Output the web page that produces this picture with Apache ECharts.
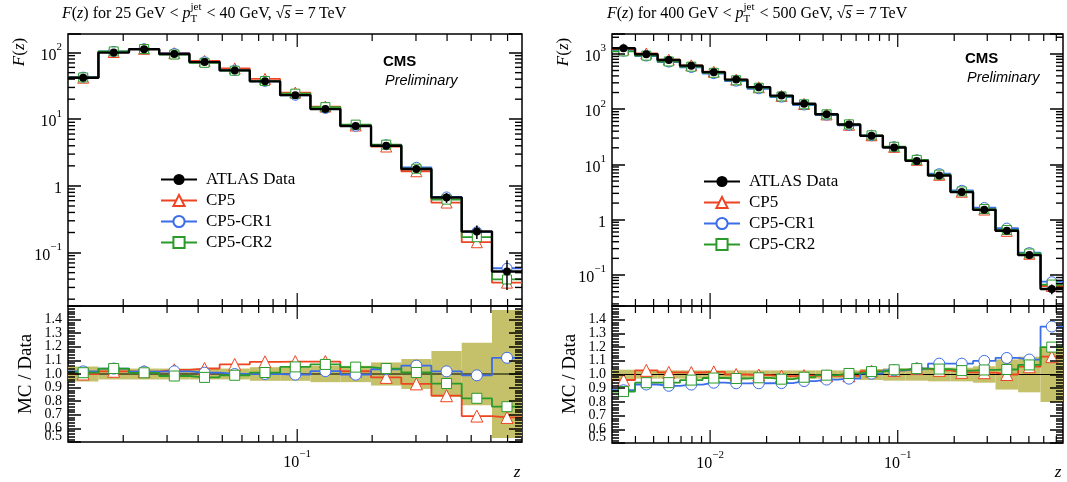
<!DOCTYPE html>
<html>
<head>
<meta charset="utf-8">
<script src="https://cdn.jsdelivr.net/npm/echarts@6/dist/echarts.min.js"></script>
<style>html,body{margin:0;background:#fff}#main{width:1067px;height:482px}</style>
</head>
<body>
<div id="main"></div>
<script>
// ---- data ----
var names = ['ATLAS Data', 'CP5', 'CP5-CR1', 'CP5-CR2'];

// 25 GeV < pT < 40 GeV
var edgesL = [0.012, 0.0159, 0.0211, 0.0279, 0.0369, 0.0488, 0.0645, 0.0854, 0.113, 0.149, 0.198, 0.262, 0.346, 0.458, 0.606, 0.80];
var dataL = [42, 100, 112, 95, 72, 54, 37, 23, 14.2, 7.9, 4.0, 1.79, 0.67, 0.207, 0.052];
var errL  = [0.055, 0.04, 0.04, 0.04, 0.04, 0.04, 0.05, 0.05, 0.06, 0.06, 0.085, 0.11, 0.17, 0.23, 0.47];
var cp5L  = [42, 102, 114, 97.9, 74.9, 57.8, 40.3, 25.1, 15.5, 8.06, 3.9, 1.66, 0.563, 0.143, 0.0354];
var cr1L  = [42.8, 104, 114, 96.9, 72.7, 54, 37, 22.9, 14.5, 7.86, 4.14, 1.9, 0.683, 0.205, 0.0582];
var cr2L  = [42.4, 104, 113, 93.6, 70.2, 53.5, 37.4, 24.2, 15.2, 8.3, 4.16, 1.81, 0.623, 0.17, 0.0395];

// 400 GeV < pT < 500 GeV
var edgesR = [0.003, 0.00398, 0.00525, 0.00691, 0.00912, 0.0120, 0.0158, 0.0209, 0.0276, 0.0364, 0.0479, 0.0631, 0.0833, 0.110, 0.145, 0.191, 0.252, 0.332, 0.438, 0.577, 0.76];
var dataR = [1268, 988, 775, 613, 467, 343, 250, 176, 125, 81, 52.7, 32.9, 20.2, 11.6, 6.3, 3.16, 1.51, 0.63, 0.229, 0.056];
var errR  = [0.035, 0.03, 0.03, 0.03, 0.03, 0.03, 0.03, 0.03, 0.03, 0.03, 0.03, 0.04, 0.045, 0.045, 0.05, 0.05, 0.06, 0.11, 0.13, 0.2];
var cp5R  = [1217, 1018, 787, 622, 476, 343, 249, 174, 124, 80.2, 52.2, 33.7, 20.8, 12.1, 6.49, 3.21, 1.53, 0.63, 0.242, 0.0633];
var cr1R  = [1122, 916, 711, 568, 439, 321, 234, 165, 119, 78, 51.1, 33.1, 20.8, 12.1, 6.8, 3.41, 1.66, 0.706, 0.254, 0.0756];
var cr2R  = [1110, 929, 729, 588, 455, 333, 244, 170, 122.5, 80.6, 53.1, 33.6, 20.9, 12.1, 6.55, 3.25, 1.56, 0.653, 0.245, 0.0672];

var SERIF = '"Liberation Serif", serif';
var SANS = '"Liberation Sans", sans-serif';
var colors = ['#000000', '#ee4422', '#3b6de8', '#2a9a2a'];
var symbols = ['circle', 'triangle', 'circle', 'rect'];
var symSize = [8, 11, 10, 9];
var bandColor = '#c5c06a';

var panels = [
  {edges: edgesL, data: dataL, err: errL, mc: [cp5L, cr1L, cr2L], yMin: 0.0158, yMax: 190,
   title: ['25 GeV', '40 GeV'], tx: 62, cms: [383, 62]},
  {edges: edgesR, data: dataR, err: errR, mc: [cp5R, cr1R, cr2R], yMin: 0.0275, yMax: 2290,
   title: ['400 GeV', '500 GeV'], tx: 607, cms: [965, 59]}
];
var grids = [
  {left: 68, top: 34, width: 454, height: 272},
  {left: 68, top: 306, width: 454, height: 136},
  {left: 612, top: 34, width: 451, height: 272},
  {left: 612, top: 306, width: 451, height: 137}
];

function stepData(edges, vals) {
  var out = [];
  for (var i = 0; i < vals.length; i++) {
    var lo = edges[i], hi = edges[i + 1];
    out.push({value: [lo, vals[i]], symbol: 'none'});
    out.push({value: [Math.sqrt(lo * hi), vals[i]]});
    out.push({value: [hi, vals[i]], symbol: 'none'});
  }
  return out;
}

function logLabel(v) {
  var l = Math.log10(v), n = Math.round(l);
  if (Math.abs(l - n) > 1e-6) return '';
  if (n === 0) return '{b|1}';
  return '{b|10}{e|' + (n < 0 ? '\u2212' + (-n) : n) + '}';
}
var logRich = {
  b: {fontSize: 16, fontFamily: SERIF, color: '#000', lineHeight: 22, verticalAlign: 'bottom'},
  e: {fontSize: 11, fontFamily: SERIF, color: '#000', lineHeight: 22, verticalAlign: 'top'}
};

function logTicks(lo, hi) {
  var out = [];
  for (var e = Math.floor(Math.log10(lo)); e <= Math.ceil(Math.log10(hi)); e++) {
    for (var m = 1; m <= 9; m++) {
      var v = +(m * Math.pow(10, e)).toPrecision(6);
      if (v > lo * 1.0001 && v < hi * 0.9999) out.push([v, m === 1 ? 1 : 0]);
    }
  }
  return out;
}

// x ticks drawn inside the frame, on bottom and top
function xTickSeries(gi, yi, ticks, ext) {
  var data = [];
  ticks.forEach(function (t) {
    data.push([t[0], ext[2], t[1], 0]);
    data.push([t[0], ext[2], t[1], 1]);
  });
  return {
    type: 'custom', xAxisIndex: gi, yAxisIndex: yi, silent: true, z: 6,
    data: data,
    renderItem: function (params, api) {
      var len = api.value(2) ? 13 : 7, side = api.value(3);
      var pt = api.coord([api.value(0), api.value(1)]);
      var c1 = api.coord([ext[1], ext[3]]);
      var s = side ? {x1: pt[0], y1: c1[1], x2: pt[0], y2: c1[1] + len}
                   : {x1: pt[0], y1: pt[1], x2: pt[0], y2: pt[1] - len};
      return {type: 'line', shape: s, style: {stroke: '#000', lineWidth: 1.2}};
    }
  };
}
// minor y ticks of the log panels (2..9 per decade), left and right
function yMinorSeries(gi, yi, ticks, ext) {
  var data = [];
  ticks.forEach(function (t) {
    if (!t[1]) { data.push([ext[0], t[0], 0]); data.push([ext[0], t[0], 1]); }
  });
  return {
    type: 'custom', xAxisIndex: gi, yAxisIndex: yi, silent: true, z: 6,
    data: data,
    renderItem: function (params, api) {
      var pt = api.coord([api.value(0), api.value(1)]);
      var xr = api.coord([ext[1], api.value(1)])[0];
      var x0 = api.value(2) ? xr - 7 : pt[0];
      return {type: 'rect', shape: {x: x0, y: pt[1] - 0.7, width: 7, height: 1.4}, style: {fill: '#000'}};
    }
  };
}

function txt(x, y, s, font) {
  return {type: 'text', x: x, y: y, style: {text: s, font: font, fill: '#000', verticalAlign: 'middle'}};
}
function mathText(x, y, size, parts) {
  var ctx = document.createElement('canvas').getContext('2d');
  var els = [], cx = x;
  parts.forEach(function (p) {
    var t = p[0], k = p[1], f, w;
    if (k === 'subsup') {
      f = Math.round(size * 0.7) + 'px ' + SERIF;
      ctx.font = f;
      w = Math.max(ctx.measureText(t[0]).width, ctx.measureText(t[1]).width);
      els.push(txt(cx, y + size * 0.32, t[0], f));
      els.push(txt(cx, y - size * 0.42, t[1], f));
      cx += w + 1;
      return;
    }
    f = (k === 'it' || k === 'ov' ? 'italic ' : '') + size + 'px ' + SERIF;
    ctx.font = f;
    w = ctx.measureText(t).width;
    els.push(txt(cx, y, t, f));
    if (k === 'ov') {
      els.push({type: 'rect', shape: {x: cx - 1, y: y - size * 0.55, width: w + 2, height: 1}, style: {fill: '#000'}});
    }
    cx += w;
  });
  return els;
}

var xAxes = [], yAxes = [], series = [], graphics = [];
var tickLine = {lineStyle: {color: '#000', width: 1.5}};

panels.forEach(function (p, pi) {
  var gm = pi * 2, gr = pi * 2 + 1;
  var xMin = p.edges[0], xMax = p.edges[p.edges.length - 1];
  [gm, gr].forEach(function (g) {
    xAxes.push({
      type: 'log', gridIndex: g, min: xMin, max: xMax,
      axisLine: {show: false}, axisTick: {show: false}, splitLine: {show: false},
      axisLabel: {show: g === gr, formatter: logLabel, rich: logRich, margin: 7}
    });
  });
  // main: left axis with labels, right axis mirrored; major ticks by the axes themselves
  ['left', 'right'].forEach(function (pos) {
    yAxes.push({
      type: 'log', gridIndex: gm, min: p.yMin, max: p.yMax, position: pos, z: 8,
      axisLine: {show: false}, splitLine: {show: false},
      axisTick: Object.assign({show: true, inside: true, length: 13}, tickLine),
      axisLabel: {show: pos === 'left', formatter: logLabel, rich: logRich, margin: 6}
    });
  });
  ['left', 'right'].forEach(function (pos) {
    yAxes.push({
      type: 'value', gridIndex: gr, min: 0.5, max: 1.5, interval: 0.1, position: pos, z: 8,
      axisLine: {show: false}, splitLine: {show: false},
      axisTick: Object.assign({show: true, inside: true, length: 13}, tickLine),
      minorTick: Object.assign({show: true, splitNumber: 5, length: 7}, tickLine),
      axisLabel: {
        show: pos === 'left', margin: 6, fontFamily: SERIF, fontSize: 14, lineHeight: 11, color: '#000',
        formatter: function (v) { return (v > 1.45 || v < 0.55) ? '' : v.toFixed(1); }
      }
    });
  });
  var ym = pi * 4, yr = pi * 4 + 2;

  // main panel: MC steps then data
  p.mc.forEach(function (vals, k) {
    series.push({
      type: 'line', name: names[k + 1], xAxisIndex: gm, yAxisIndex: ym,
      data: stepData(p.edges, vals), symbol: symbols[k + 1], symbolSize: symSize[k + 1],
      showSymbol: true, lineStyle: {color: colors[k + 1], width: 1.8},
      itemStyle: {color: '#fff', borderColor: colors[k + 1], borderWidth: 1},
      z: 2 + k * 0.1
    });
  });
  series.push({
    type: 'line', name: names[0], xAxisIndex: gm, yAxisIndex: ym,
    data: stepData(p.edges, p.data), symbol: 'circle', symbolSize: symSize[0],
    lineStyle: {color: '#000', width: 2.4}, itemStyle: {color: '#000'}, z: 3
  });
  series.push({
    type: 'custom', xAxisIndex: gm, yAxisIndex: ym, silent: true, z: 3,
    data: p.data.map(function (v, i) { return [Math.sqrt(p.edges[i] * p.edges[i + 1]), v, p.err[i]]; }),
    renderItem: function (params, api) {
      var a = api.coord([api.value(0), api.value(1) * (1 - api.value(2))]);
      var b = api.coord([api.value(0), api.value(1) * (1 + api.value(2))]);
      return {type: 'line', shape: {x1: a[0], y1: a[1], x2: b[0], y2: b[1]}, style: {stroke: '#000', lineWidth: 1.5}};
    }
  });

  // ratio panel
  series.push({
    type: 'custom', xAxisIndex: gr, yAxisIndex: yr, silent: true, z: 1,
    data: p.err.map(function (e, i) { return [p.edges[i], p.edges[i + 1], e]; }),
    renderItem: function (params, api) {
      var a = api.coord([api.value(0), 1 + api.value(2)]);
      var b = api.coord([api.value(1), 1 - api.value(2)]);
      return {type: 'rect', shape: {x: a[0], y: a[1], width: b[0] - a[0], height: b[1] - a[1]}, style: {fill: bandColor}};
    }
  });
  series.push({
    type: 'line', name: 'ratio-data', xAxisIndex: gr, yAxisIndex: yr, symbol: 'none',
    data: [[xMin, 1], [xMax, 1]], lineStyle: {color: '#000', width: 1.2}, z: 2
  });
  p.mc.forEach(function (vals, k) {
    series.push({
      type: 'line', name: 'ratio-' + names[k + 1], xAxisIndex: gr, yAxisIndex: yr,
      data: stepData(p.edges, vals.map(function (v, i) { return v / p.data[i]; })),
      symbol: symbols[k + 1], symbolSize: symSize[k + 1] + 1, showSymbol: true,
      lineStyle: {color: colors[k + 1], width: 1.8},
      itemStyle: {color: '#fff', borderColor: colors[k + 1], borderWidth: 1},
      z: 2 + k * 0.1
    });
  });

  var extM = [xMin, xMax, p.yMin, p.yMax], extR = [xMin, xMax, 0.5, 1.5];
  series.push(xTickSeries(gm, ym, logTicks(xMin, xMax), extM));
  series.push(xTickSeries(gr, yr, logTicks(xMin, xMax), extR));
  series.push(yMinorSeries(gm, ym, logTicks(p.yMin, p.yMax), extM));

  // texts
  graphics = graphics.concat(mathText(p.tx, 14, 16, [
    ['F', 'it'], ['(', 'rm'], ['z', 'it'], [') for ' + p.title[0] + ' < ', 'rm'], ['p', 'it'],
    [['T', 'jet'], 'subsup'], [' < ' + p.title[1] + ', ', 'rm'], ['\u221a', 'rm'], ['s', 'ov'], [' = 7\u2009TeV', 'rm']
  ]));
  var gx = grids[gm].left;
  graphics.push({type: 'text', x: gx - 48, y: 52, rotation: Math.PI / 2, style: {
    text: '{i|F}{r|(}{i|z}{r|)}', align: 'center', verticalAlign: 'middle',
    rich: {i: {fontStyle: 'italic', fontSize: 17, fontFamily: SERIF}, r: {fontSize: 17, fontFamily: SERIF}}
  }});
  graphics.push({type: 'text', x: gx - 42, y: 374, rotation: Math.PI / 2, style: {
    text: 'MC / Data', align: 'center', verticalAlign: 'middle', font: '19px ' + SERIF, fill: '#000'
  }});
  graphics.push({type: 'text', x: gx + grids[gm].width - 5, y: 473, style: {
    text: 'z', align: 'center', verticalAlign: 'middle', font: 'italic 17px ' + SERIF, fill: '#000'
  }});
  graphics.push({type: 'text', x: p.cms[0], y: p.cms[1], style: {
    text: 'CMS', verticalAlign: 'middle', font: 'bold 15px ' + SANS, fill: '#000'
  }});
  graphics.push({type: 'text', x: p.cms[0] + 2, y: p.cms[1] + 19, style: {
    text: 'Preliminary', verticalAlign: 'middle', font: 'italic 14.5px ' + SANS, fill: '#000'
  }});
  // lowest ratio label sits a little above its tick, as in the original
  graphics.push({type: 'text', x: gx - 6, y: grids[gr].top + grids[gr].height - 6, style: {
    text: '0.5', align: 'right', verticalAlign: 'middle', font: '14px ' + SERIF, fill: '#000'
  }});
});

var legendBase = {
  orient: 'vertical', itemWidth: 36, itemHeight: 14, itemGap: 4, padding: 0,
  selectedMode: false, data: names,
  textStyle: {fontFamily: SERIF, fontSize: 17, lineHeight: 16, color: '#000', padding: [0, 0, 0, 4]}
};

var chart = echarts.init(document.getElementById('main'));
chart.setOption({
  animation: false,
  backgroundColor: '#fff',
  grid: grids.map(function (g) {
    return {left: g.left, top: g.top, width: g.width, height: g.height, show: true,
      borderColor: '#000', borderWidth: 1.5, backgroundColor: 'transparent'};
  }),
  legend: [
    Object.assign({left: 160, top: 171}, legendBase),
    Object.assign({left: 703, top: 173}, legendBase)
  ],
  xAxis: xAxes,
  yAxis: yAxes,
  series: series,
  graphic: graphics
});
</script>
</body>
</html>
